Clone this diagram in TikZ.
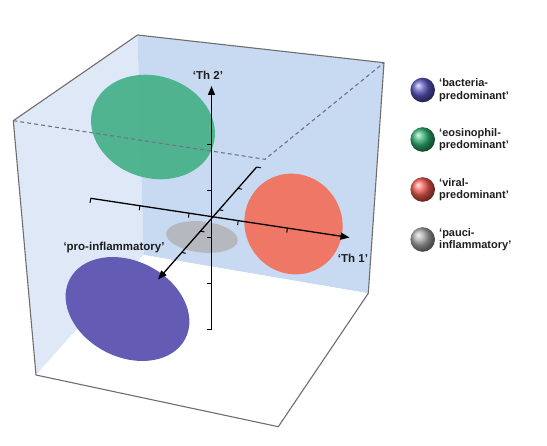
\documentclass[tikz,border=0pt]{standalone}
\usepackage{fontspec}
\setmainfont{Liberation Sans}
\usetikzlibrary{arrows.meta,calc,positioning}
\definecolor{backwall}{HTML}{C7DAF2}
\definecolor{sidewall}{HTML}{DEE8F6}
\definecolor{edgegray}{HTML}{6E6E6E}
\definecolor{dashgray}{HTML}{6B7585}
\definecolor{eosgreen}{HTML}{45B088}
\definecolor{viralred}{HTML}{EE7766}
\definecolor{paucigray}{HTML}{B4B6BA}
\definecolor{bactblue}{HTML}{6057B2}
\definecolor{textblack}{HTML}{1E1E1E}
\definecolor{ballblue}{HTML}{5A55C0}
\definecolor{ballgreen}{HTML}{2FB070}
\definecolor{ballred}{HTML}{F05A50}
\definecolor{ballgray}{HTML}{A5A5A5}
\begin{document}
\begin{tikzpicture}[x=1pt,y=-1pt,
  edge/.style={draw=edgegray,line width=1.1},
  hidden/.style={draw=dashgray,line width=1.1,dash pattern=on 4pt off 3pt},
  axis/.style={line width=1.3,-{Triangle[length=9pt,width=7pt]}},
  tick/.style={line width=1},
  lbl/.style={font=\bfseries\fontsize{11.5}{13}\selectfont,text=textblack,inner sep=0pt},
  key/.style={font=\bfseries\fontsize{11}{12.5}\selectfont,text=textblack,align=left,anchor=west,inner sep=0pt}]
\useasboundingbox (0,0) rectangle (547,446);
% cube corners
\coordinate (FTL) at (13.3,120.7);
\coordinate (BTL) at (137.5,35);
\coordinate (BTR) at (384,62.7);
\coordinate (FTR) at (265,159.3);
\coordinate (BBL) at (143.5,255);
\coordinate (BBR) at (368.3,293.3);
\coordinate (FBR) at (278.3,426.7);
\coordinate (FBL) at (36,375);
% walls
\fill[sidewall] (FTL) -- (BTL) -- (BBL) -- (FBL) -- cycle;
\fill[backwall] (BTL) -- (BTR) -- (BBR) -- (BBL) -- cycle;
\fill[white] (BBL) -- (BBR) -- (FBR) -- (FBL) -- cycle;
% clusters
\fill[eosgreen,opacity=0.92,rotate around={-18:(153,127)}] (153,127) ellipse (63 and 51);
\fill[viralred,rotate around={-60:(293.5,224)}] (293.5,224) ellipse (51 and 48.5);
\fill[paucigray,opacity=0.9,rotate around={-6:(202,237)}] (202,237) ellipse (36 and 15.5);
% hidden edges
\draw[hidden] (FTL) -- (FTR) -- (BTR);
% visible edges
\draw[edge,line join=round] (FBL) -- (FTL) -- (BTL) -- (BTR) -- (BBR) -- (FBR) -- cycle;
% axes
\coordinate (O) at (211.5,216.5);
\coordinate (th1a) at (90.7,198.3);
\coordinate (th1b) at (349.5,237.5);
\coordinate (th2a) at (211.5,330);
\coordinate (th2b) at (211.5,86);
\coordinate (proa) at (256.7,167);
\coordinate (prob) at (158,279.5);
\fill[bactblue,opacity=0.97,rotate around={-27:(127.5,309)}] (127.5,309) ellipse (65 and 48);
\draw[axis] (th1a) -- (th1b);
\draw[axis] (th2a) -- (th2b);
\draw[axis] (proa) -- (prob);
\foreach \t in {0,0.19,0.38,0.57,0.76}{
  \draw[tick] ($(th1a)!\t!(th1b)$) -- ++(-0.6,4.5);
  \draw[tick] ($(th2a)!\t!(th2b)$) -- ++(-4.5,0);
  \draw[tick] ($(proa)!\t!(prob)$) -- ++(4,0.8);
}
% axis labels
\node[lbl] (th2) at (208,75) {‘Th 2’};
\node[lbl] (th1) at (353,258) {‘Th 1’};
\node[lbl] (pro) at (114,248) {‘pro-inflammatory’};
% legend
\shade[ball color=ballblue] (422.7,90) circle (12.3);
\shade[ball color=ballgreen] (422.7,139.5) circle (12.3);
\shade[ball color=ballred] (422.7,189.5) circle (12.3);
\shade[ball color=ballgray] (422.7,239.5) circle (12.3);
\node[key] (kbact) at (439,90) {‘bacteria-\\predominant’};
\node[key] (keos) at (439,139.5) {‘eosinophil-\\predominant’};
\node[key] (kviral) at (439,189.5) {‘viral-\\predominant’};
\node[key] (kpauci) at (439,239.5) {‘pauci-\\inflammatory’};
\end{tikzpicture}
\end{document}
